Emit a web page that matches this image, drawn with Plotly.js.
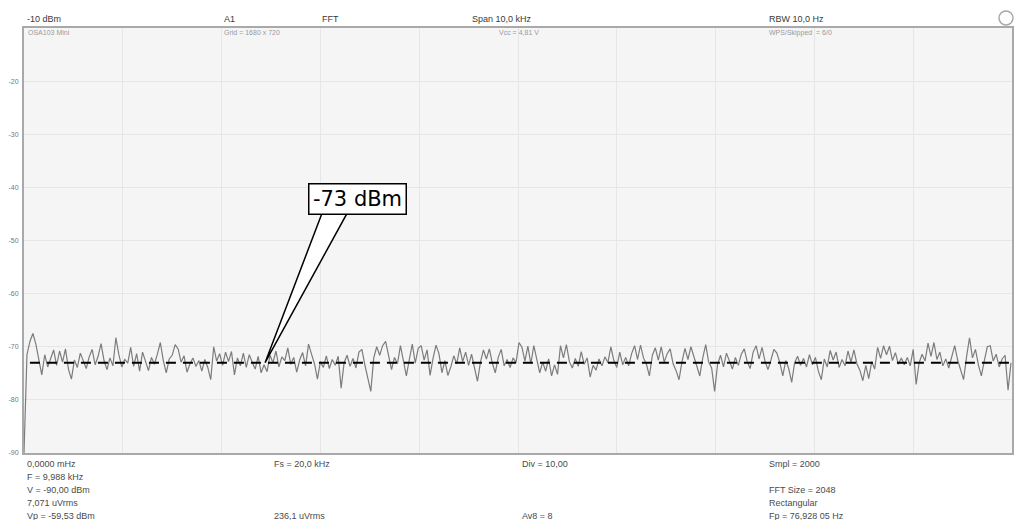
<!DOCTYPE html>
<html>
<head>
<meta charset="utf-8">
<script src="https://cdn.plot.ly/plotly-3.0.1.min.js"></script>
<style>
  html, body { margin: 0; padding: 0; background: #ffffff; }
  #chart { width: 1020px; height: 520px; }
</style>
</head>
<body>
<div id="chart"></div>
<script>
// FFT bin spacing of the spectrum trace, in kHz
const binWidth = 0.03;

// Measured spectrum level per bin, dBm
const levelDbm = [
  -90, -71.5, -69, -67.5, -69.5, -72.8, -75.3, -71.5, -73.8, -72.2,
  -70.6, -73.5, -70.8, -72.9, -70.4, -74.2, -76.1, -72.5, -73.9, -71.2,
  -72.7, -74.1, -71.9, -70.5, -73.4, -71.8, -69.4, -72.6, -74.3, -72.1,
  -73.6, -68.3, -71.5, -73.8, -72.4, -73.1, -70.1, -73.7, -71.3, -74.6,
  -71.0, -72.8, -74.5, -72.0, -73.3, -71.4, -69.2, -72.6, -74.9, -72.3,
  -71.6, -69.6, -70.4, -72.9, -71.7, -74.8, -73.2, -72.1, -73.7, -72.6,
  -74.6, -72.4, -73.9, -76.2, -70.0, -72.7, -71.3, -73.5, -71.0, -72.8,
  -70.9, -75.3, -72.1, -73.6, -71.2, -73.9, -71.5, -72.9, -74.2, -71.8,
  -74.9, -73.4, -74.7, -71.6, -73.0, -70.8, -73.8, -71.9, -72.6, -70.2,
  -73.3, -72.0, -74.8, -72.5, -71.1, -73.6, -69.5, -71.4, -73.2, -76.1,
  -72.8, -73.9, -71.7, -74.1, -72.4, -73.5, -71.8, -77.8, -73.0, -71.6,
  -73.7, -72.2, -74.0, -71.0, -70.5, -73.4, -75.8, -78.4, -72.1, -70.0,
  -71.6, -69.8, -69.0, -71.9, -74.3, -72.0, -73.2, -69.8, -72.7, -75.5,
  -72.4, -69.5, -73.1, -70.3, -69.8, -72.5, -70.6, -75.4, -72.2, -69.7,
  -71.3, -74.9, -72.6, -75.4, -73.8, -71.7, -73.2, -70.2, -72.8, -71.0,
  -73.5, -71.4, -74.0, -76.5, -72.9, -70.6, -72.3, -70.4, -73.1, -74.9,
  -72.0, -70.5, -73.6, -72.4, -73.9, -72.1, -73.0, -69.2, -70.1, -72.7,
  -69.9, -73.2, -69.8, -72.5, -74.9, -72.9, -74.6, -72.3, -75.5, -73.4,
  -75.2, -69.8, -72.1, -69.6, -72.8, -74.0, -72.2, -73.7, -70.9, -73.3,
  -72.1, -75.7, -73.5, -74.4, -72.3, -73.6, -71.9, -73.0, -70.0, -72.6,
  -73.9, -71.0, -73.4, -72.0, -73.6, -71.3, -69.8, -72.4, -69.7, -72.1,
  -73.3, -75.5, -71.6, -70.2, -72.5, -70.0, -72.9, -71.3, -70.4, -73.2,
  -74.5, -76.2, -72.8, -70.3, -72.4, -70.0, -71.7, -73.4, -75.5, -72.1,
  -69.6, -72.9, -74.0, -78.4, -73.3, -71.6, -73.8, -71.2, -72.7, -74.2,
  -72.0, -73.5, -71.4, -70.4, -72.8, -74.1, -71.0, -69.8, -72.3, -70.1,
  -72.7, -74.3, -72.5, -70.5, -71.2, -73.0, -75.5, -72.6, -74.1, -76.7,
  -73.0, -71.8, -73.5, -72.2, -73.8, -71.5, -73.4, -72.0, -74.6, -76.2,
  -72.3, -73.8, -70.7, -72.5, -71.0, -73.9, -72.4, -73.6, -70.8, -72.9,
  -70.6, -73.2, -74.4, -76.4, -73.5, -76.0, -72.8, -74.2, -70.1, -72.2,
  -69.8, -71.5, -69.9, -72.6, -71.1, -73.3, -72.1, -73.4, -72.0, -73.6,
  -70.5, -77.1, -73.0, -71.4, -72.7, -69.3, -71.8, -69.2, -72.4, -71.0,
  -73.6, -72.3, -74.0, -71.6, -69.8, -72.5, -74.3, -76.2, -71.9, -68.3,
  -72.1, -70.5, -73.4, -75.5, -72.6, -70.0, -69.8, -72.7, -71.4, -73.8,
  -72.3, -71.6, -78.2, -73.0
];

// Bin centre frequencies, kHz
const freqKHz = levelDbm.map((_, i) => i * binWidth);

// Noise-floor marker
const markerLevel = -73;
const markerFreq = 2.44;
const markerLabel = markerLevel + ' dBm';

// Axes
const freqRange = [0, 10];
const levelRange = [-90, -10];
const levelTicks = [-20, -30, -40, -50, -60, -70, -80, -90];
const levelTickText = ['-20', '-30', '-40', '-50', '-60', '-70', '-80', '-90'];

// Instrument status texts
const headerTexts = ['-10 dBm', 'A1', 'FFT', 'Span 10,0 kHz', 'RBW 10,0 Hz'];
const infoTexts = ['OSA103 Mini', 'Grid = 1680 x 720', 'Vcc = 4,81 V', 'WPS/Skipped  = 6/0'];
const footerCol1 = ['0,0000 mHz', 'F = 9,988 kHz', 'V = -90,00 dBm', '7,071 uVrms', 'Vp = -59,53 dBm'];
const footerCol2 = ['Fs = 20,0 kHz', '', '', '', '236,1 uVrms'];
const footerCol3 = ['Div = 10,00', '', '', '', 'Av8 = 8'];
const footerCol4 = ['Smpl = 2000', '', 'FFT Size = 2048', 'Rectangular', 'Fp = 76,928 05 Hz'];

// ---- page geometry (pixels) ----
const W = 1020, H = 520;
const M = { l: 24, r: 8, t: 28, b: 67 };
const PW = W - M.l - M.r, PH = H - M.t - M.b;
const px2x = px => (px - M.l) / PW;
const py2y = py => (H - M.b - py) / PH;

const FONT = 'Liberation Sans, Arial, sans-serif';

function textAnn(text, px, py, size, color) {
  return {
    text: text, xref: 'paper', yref: 'paper',
    x: px2x(px), y: py2y(py), xanchor: 'left', yanchor: 'middle',
    showarrow: false, font: { family: FONT, size: size, color: color }
  };
}

const annotations = [];
const headerX = [25, 222, 320, 470, 767];
headerTexts.forEach((t, i) => annotations.push(textAnn(t, headerX[i], 19, 9, '#3a3a3a')));
const infoX = [26, 222, 497, 767];
infoTexts.forEach((t, i) => annotations.push(textAnn(t, infoX[i], 33, 7, '#9a9a9a')));
const footerRows = [464, 477, 490, 503, 516];
[[footerCol1, 25], [footerCol2, 272], [footerCol3, 520], [footerCol4, 767]].forEach(([col, x]) => {
  col.forEach((t, r) => { if (t) annotations.push(textAnn(t, x, footerRows[r], 9, '#4a4a4a')); });
});

// Callout box with the marker value
annotations.push({
  text: markerLabel, xref: 'x', yref: 'y',
  x: 3.375, y: -42.2, xanchor: 'center', yanchor: 'middle',
  showarrow: false, bgcolor: '#ffffff', bordercolor: '#000000', borderwidth: 1.5,
  borderpad: 1, width: 94, height: 27,
  font: { family: 'DejaVu Sans, sans-serif', size: 21, color: '#000000' }
});

const shapes = [
  // pointer wedge from the callout box down to the marker
  {
    type: 'path', xref: 'x', yref: 'y', layer: 'above',
    path: 'M 3.03 -44.2 L ' + markerFreq + ' ' + markerLevel + ' L 3.29 -44.2 Z',
    fillcolor: '#ffffff', line: { color: '#000000', width: 1.5 }
  },
  // status indicator circle
  {
    type: 'circle', xref: 'paper', yref: 'paper',
    xsizemode: 'pixel', ysizemode: 'pixel',
    xanchor: px2x(1006), yanchor: py2y(18),
    x0: -7, x1: 7, y0: -7, y1: 7,
    fillcolor: '#ffffff', line: { color: '#a8a8a8', width: 1.5 }
  }
];

const traces = [
  {
    type: 'scatter', mode: 'lines', x: freqKHz, y: levelDbm,
    line: { color: '#7c7c7c', width: 1.2 }, hoverinfo: 'skip'
  },
  {
    type: 'scatter', mode: 'lines',
    x: [freqKHz[2], freqKHz[freqKHz.length - 1]], y: [markerLevel, markerLevel],
    line: { color: '#000000', width: 2, dash: '10px,7px' }, hoverinfo: 'skip'
  }
];

const layout = {
  width: W, height: H,
  margin: M,
  paper_bgcolor: '#ffffff',
  plot_bgcolor: '#f5f5f5',
  showlegend: false,
  xaxis: {
    range: freqRange, dtick: 1, showticklabels: false, zeroline: false,
    showgrid: true, gridcolor: '#e6e6e6', gridwidth: 1,
    showline: true, linecolor: '#a9a9a9', linewidth: 2, mirror: true,
    ticks: ''
  },
  yaxis: {
    range: levelRange, tickvals: levelTicks, ticktext: levelTickText,
    zeroline: false, showgrid: true, gridcolor: '#e6e6e6', gridwidth: 1,
    showline: true, linecolor: '#a9a9a9', linewidth: 2, mirror: true,
    ticks: '', ticklabelstandoff: 2,
    tickfont: { family: FONT, size: 7, color: '#777777' }
  },
  annotations: annotations,
  shapes: shapes
};

Plotly.newPlot('chart', traces, layout, { displayModeBar: false, staticPlot: true });
</script>
</body>
</html>
